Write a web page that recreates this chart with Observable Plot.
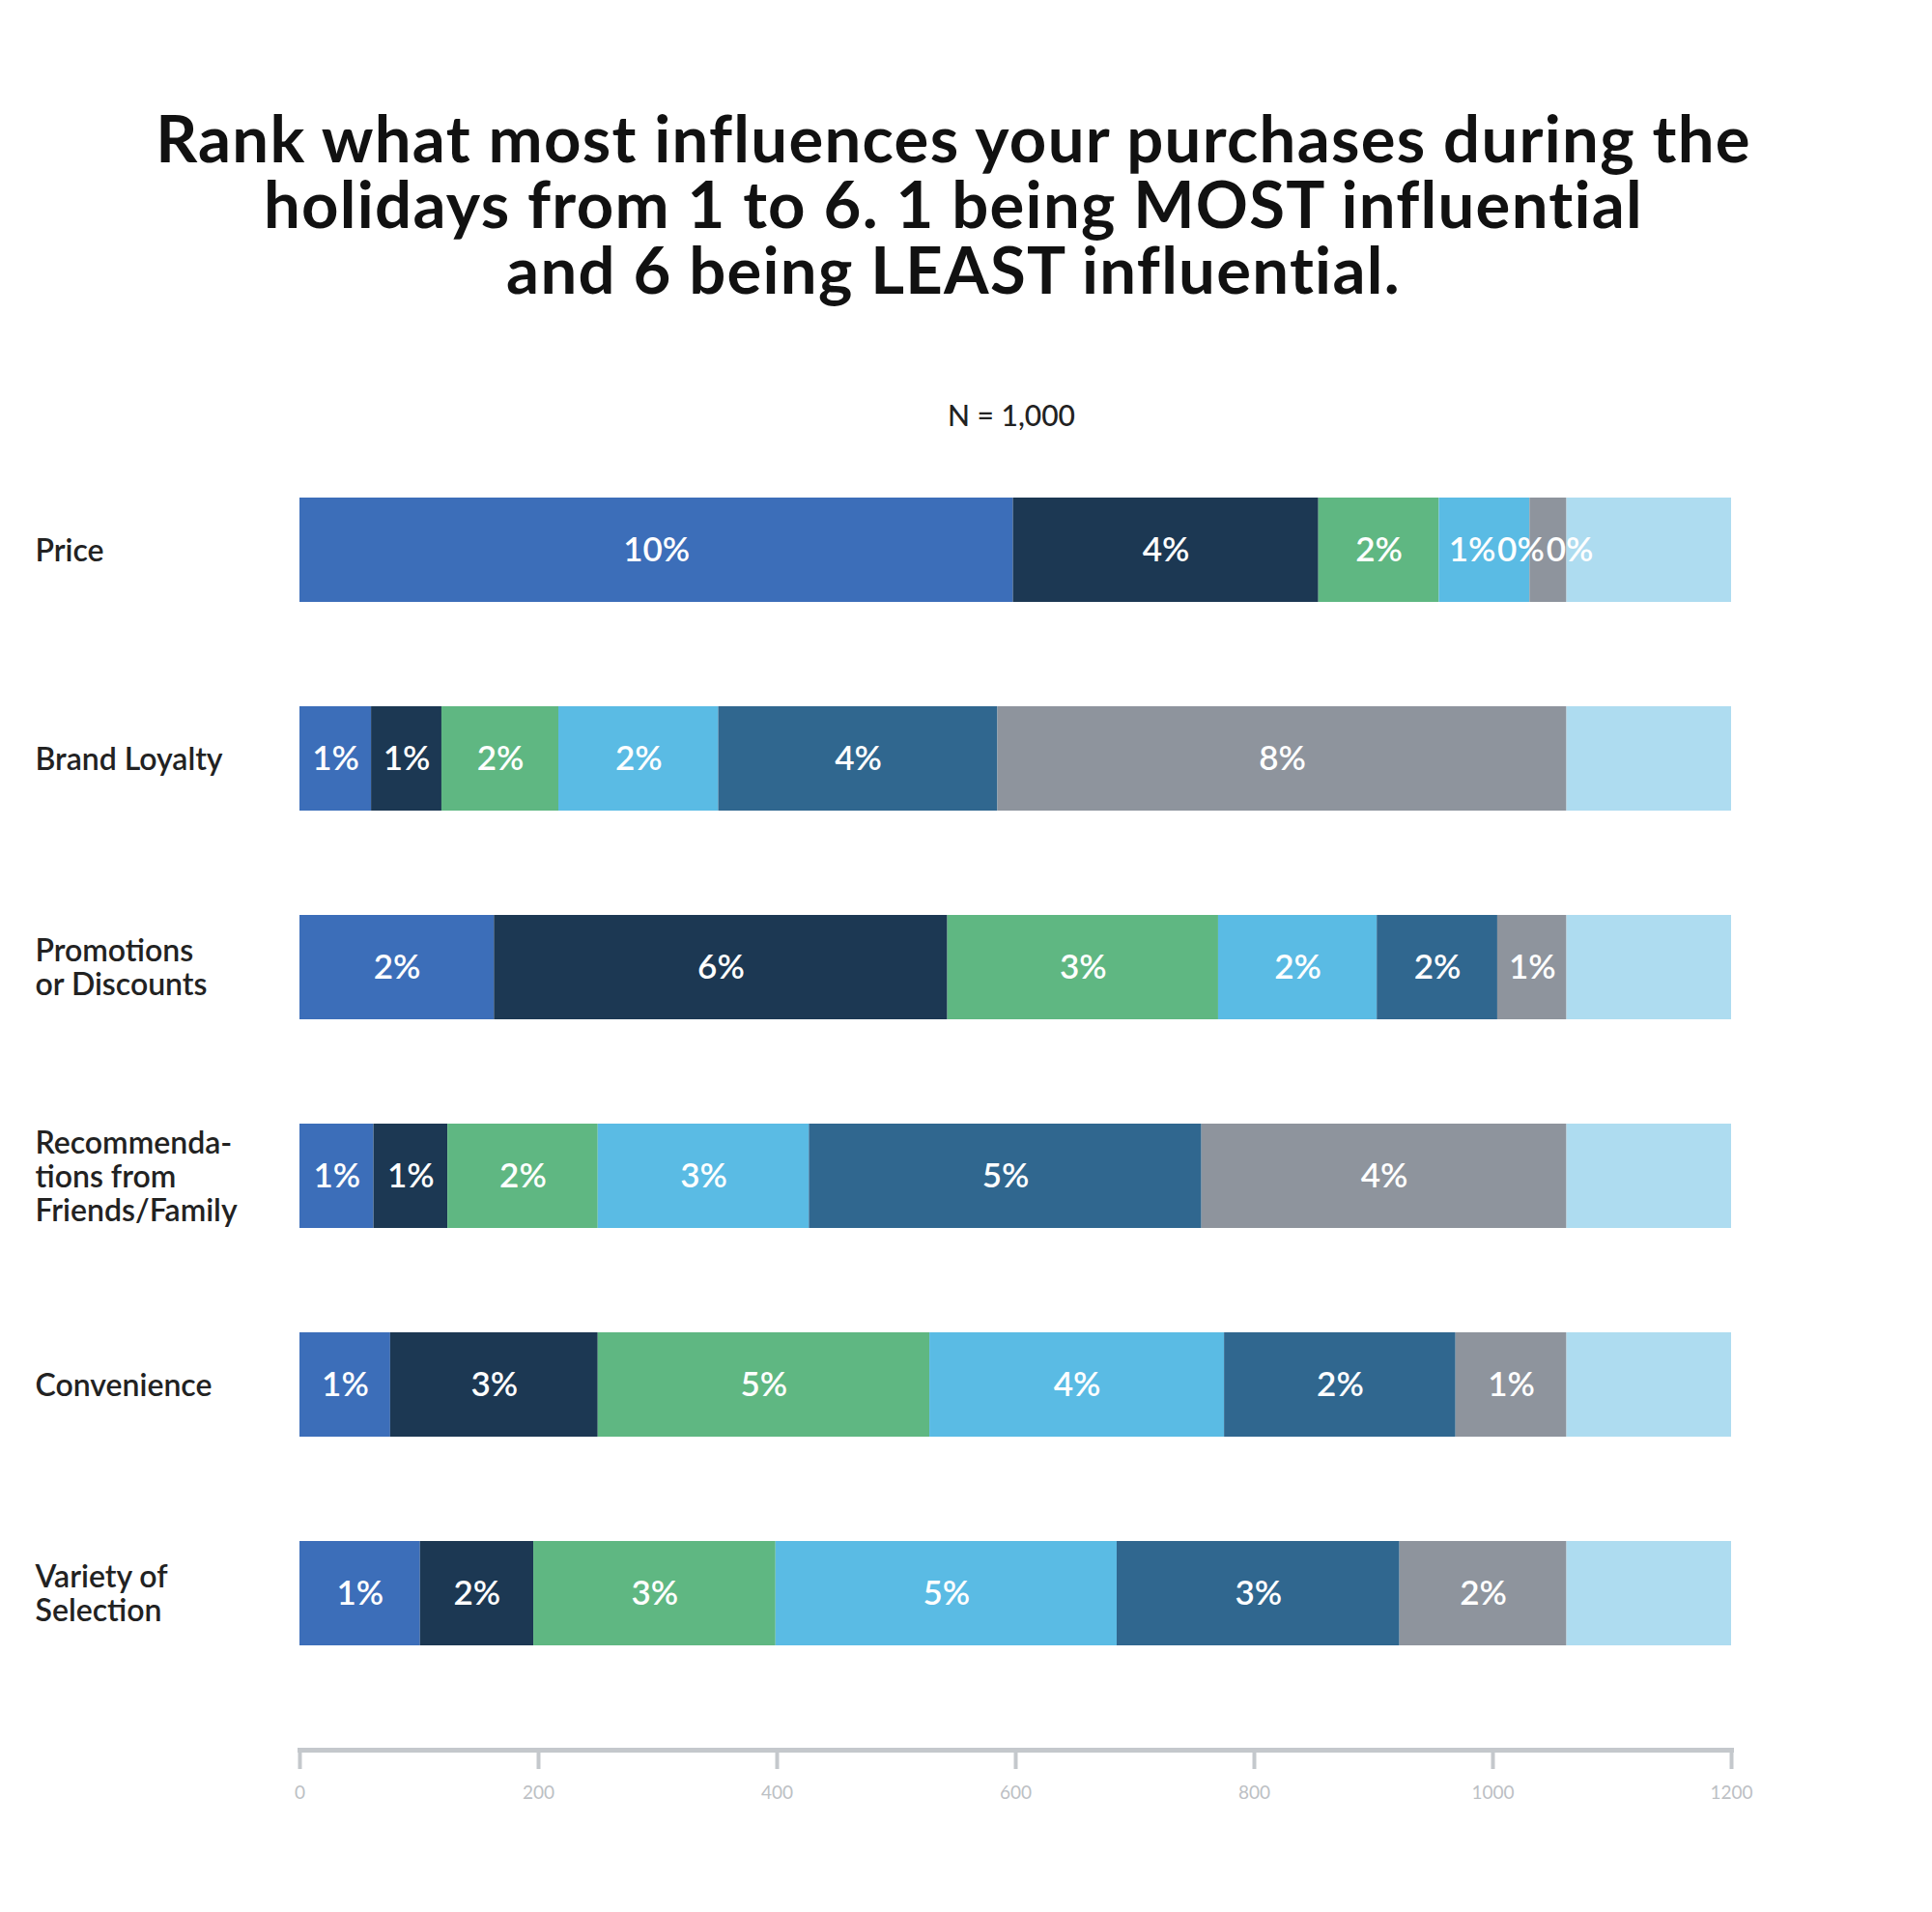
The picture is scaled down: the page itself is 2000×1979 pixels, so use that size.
<!DOCTYPE html>
<html><head><meta charset="utf-8">
<script src="https://cdn.jsdelivr.net/npm/d3@7"></script>
<script src="https://cdn.jsdelivr.net/npm/@observablehq/plot@0.6"></script>
<style>
html,body{margin:0;padding:0;background:#fff;}
body{width:2000px;height:1979px;overflow:hidden;font-family:Lato,"Open Sans",sans-serif;}
#wrap{padding-top:108px;}
#title{padding-right:26px;text-align:center;font-size:67px;line-height:68px;font-weight:700;color:#111;letter-spacing:1.3px;}
#title div{height:68px;white-space:nowrap;}
#sub{margin-top:100px;height:38px;line-height:34px;padding-left:94px;text-align:center;font-size:30px;font-weight:500;color:#222;}
</style></head><body>
<div id="wrap">
<div id="title"><div>Rank what most influences your purchases during the</div><div>holidays from 1 to 6. 1 being MOST influential</div><div>and 6 being LEAST influential.</div></div>
<div id="sub">N = 1,000</div>
<div id="chart"></div>
</div>
<script>
const categories = ["Price","Brand Loyalty","Promotions or Discounts","Recommendations from Friends/Family","Convenience","Variety of Selection"];
const categoryLabels = ["Price","Brand Loyalty","Promotions\nor Discounts","Recommenda-\ntions from\nFriends/Family","Convenience","Variety of\nSelection"];
const series = ["Rank 1","Rank 2","Rank 3","Rank 4","Rank 5","Rank 6","Remainder"];
const palette = ["#3c6eb9","#1c3853","#5fb782","#5abbe4","#30678f","#8e949d","#aedcf0"];

const priceValues       = [598, 256, 101, 76, 0, 31, 138];
const brandValues       = [60, 59, 98, 134, 234, 477, 138];
const promotionsValues  = [163, 380, 227, 133, 101, 58, 138];
const recommendValues   = [62, 62, 126, 177, 329, 306, 138];
const convenienceValues = [76, 174, 278, 247, 194, 93, 138];
const varietyValues     = [101, 95, 203, 286, 237, 140, 138];

const priceLabels       = ["10%","4%","2%","1%","0%","0%",""];
const brandLabels       = ["1%","1%","2%","2%","4%","8%",""];
const promotionsLabels  = ["2%","6%","3%","2%","2%","1%",""];
const recommendLabels   = ["1%","1%","2%","3%","5%","4%",""];
const convenienceLabels = ["1%","3%","5%","4%","2%","1%",""];
const varietyLabels     = ["1%","2%","3%","5%","3%","2%",""];

const xTicks = [0,200,400,600,800,1000,1200];

const rows = [
  [priceValues, priceLabels],
  [brandValues, brandLabels],
  [promotionsValues, promotionsLabels],
  [recommendValues, recommendLabels],
  [convenienceValues, convenienceLabels],
  [varietyValues, varietyLabels]
];
const data = [];
rows.forEach(([vals, labs], ci) => {
  vals.forEach((v, si) => data.push({category: categories[ci], series: series[si], value: v, label: labs[si]}));
});

const chart = Plot.plot({
  width: 2000,
  height: 1529,
  marginLeft: 310,
  marginRight: 208,
  marginTop: 0,
  marginBottom: 168,
  style: {fontFamily: "Lato, 'Open Sans', sans-serif", background: "#fff"},
  x: {domain: [0, 1200]},
  y: {domain: categories, range: [63, 1254], paddingInner: 0.5, paddingOuter: 0, axis: null},
  color: {domain: series, range: palette},
  marks: [
    Plot.barX(data, {y: "category", x: "value", fill: "series", order: null}),
    Plot.text(data, Plot.stackX({y: "category", x: "value", text: "label", order: null, fill: "white", fontSize: 35, fontWeight: 600})),
    Plot.text(categories, {y: d => d, text: (d, i) => categoryLabels[i], frameAnchor: "left", dx: -274, textAnchor: "start", fontSize: 32, fontWeight: 600, fill: "#222", lineHeight: 1.1}),
    Plot.frame({anchor: "bottom", stroke: "#c4c8cc", strokeWidth: 5}),
    Plot.axisX({ticks: xTicks, tickFormat: d => String(d), tickSize: 20, tickPadding: 17, stroke: "#c4c8cc", strokeWidth: 4, fill: "#bcc0c4", fontSize: 19, label: null})
  ]
});
document.getElementById("chart").appendChild(chart);

// Nudge overlapping bar labels apart within each row
const labelGroup = chart.querySelectorAll('g[aria-label="text"]')[0];
if (labelGroup) {
  const items = Array.from(labelGroup.querySelectorAll("text"))
    .filter(t => t.textContent.trim() !== "")
    .map(t => {
      const b = t.getBoundingClientRect();
      return {t, x1: b.left, x2: b.right, cy: Math.round((b.top + b.bottom) / 2), dx: 0};
    });
  const byRow = d3.group(items, d => d.cy);
  for (const list of byRow.values()) {
    list.sort((a, b) => a.x1 - b.x1);
    for (let iter = 0; iter < 30; iter++) {
      let moved = false;
      for (let i = 0; i < list.length - 1; i++) {
        const a = list[i], b = list[i + 1];
        const ov = (a.x2 + a.dx + 2) - (b.x1 + b.dx);
        if (ov > 0.5) { a.dx -= ov / 2; b.dx += ov / 2; moved = true; }
      }
      if (!moved) break;
    }
    list.forEach(d => { if (d.dx) d.t.setAttribute("dx", d.dx); });
  }
}
</script>
</body></html>
